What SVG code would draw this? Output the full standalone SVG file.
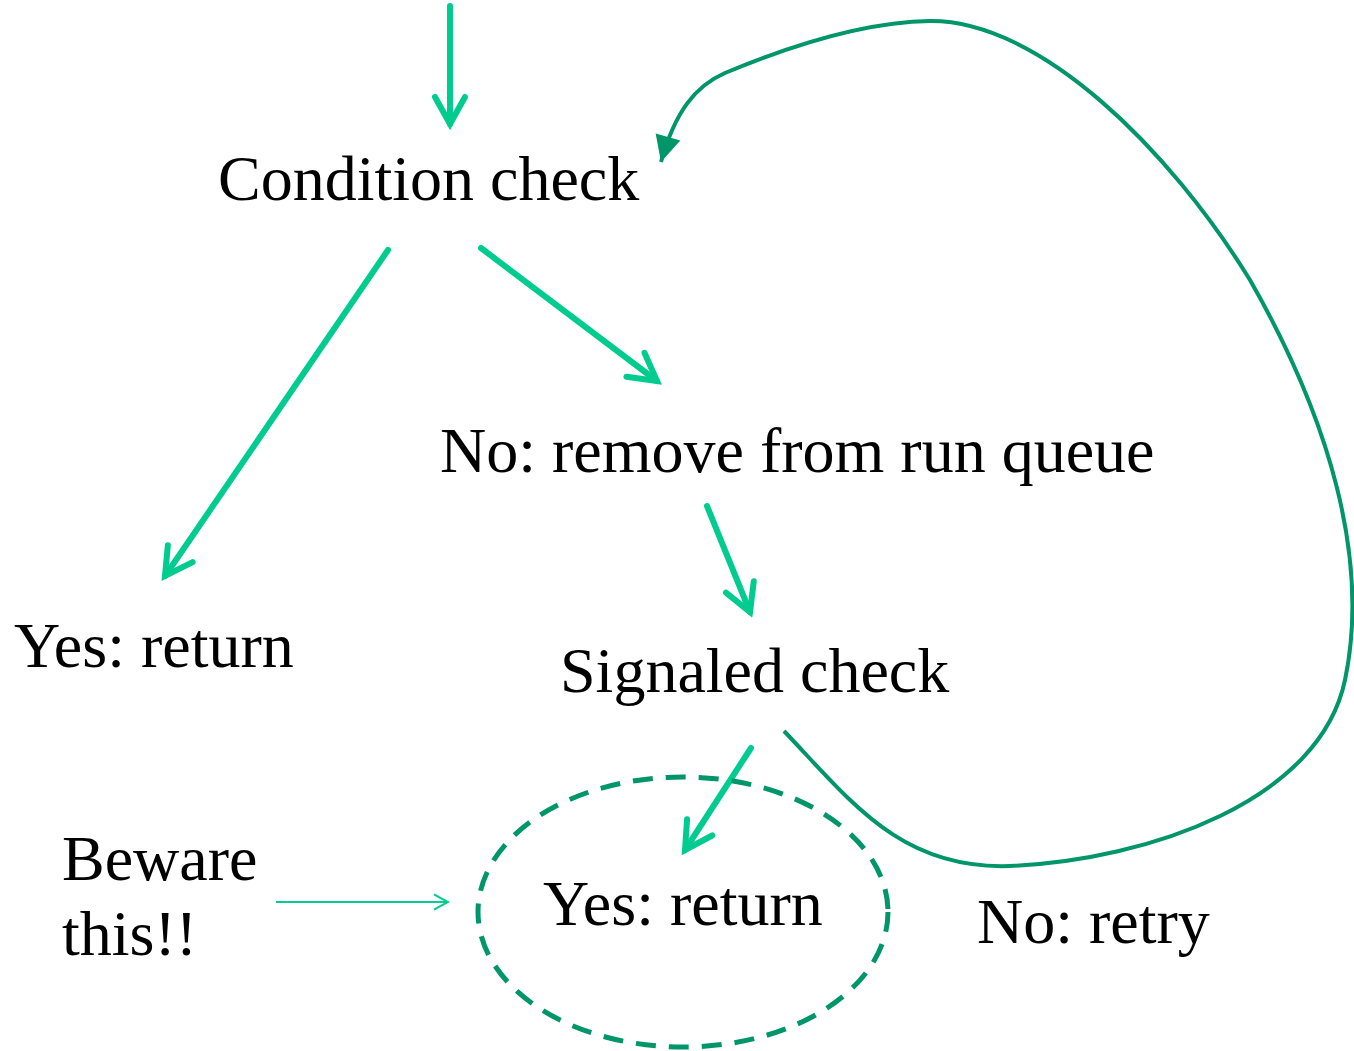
<svg xmlns="http://www.w3.org/2000/svg" width="1354" height="1051" viewBox="0 0 1354 1051">
<defs>
<style>
text{font-family:"Liberation Serif","Times New Roman",serif;font-size:64px;fill:#000}
.a{fill:none;stroke:#00CC8F;stroke-width:6;stroke-linecap:round}
.t{fill:none;stroke:#00CC8F;stroke-width:2}
.d{fill:none;stroke:#00966A;stroke-width:4}
</style>
<marker id="ch" viewBox="-7 -4 8 8" markerWidth="8" markerHeight="8" refX="0" refY="0" orient="auto" markerUnits="strokeWidth">
<path d="M-4.5,-2.5 L0,0 L-4.5,2.5" fill="none" stroke="#00CC8F" stroke-width="1" stroke-linecap="round" stroke-linejoin="miter"/>
</marker>
<marker id="ct" viewBox="-9 -5 10 10" markerWidth="10" markerHeight="10" refX="0" refY="0" orient="auto" markerUnits="strokeWidth">
<path d="M-7,-3.8 L0,0 L-7,3.8" fill="none" stroke="#00CC8F" stroke-width="1"/>
</marker>
<marker id="df" viewBox="-9 -4 10 8" markerWidth="10" markerHeight="8" refX="0" refY="0" orient="auto" markerUnits="strokeWidth">
<path d="M-6.5,-3.2 L0,0 L-6.5,3.2 Z" fill="#00966A"/>
</marker>
</defs>
<g id="connectors">
<line class="a" x1="450" y1="6" x2="450" y2="124" marker-end="url(#ch)"/>
<line class="a" x1="388" y1="250" x2="165" y2="576" marker-end="url(#ch)"/>
<line class="a" x1="481" y1="248" x2="657" y2="381" marker-end="url(#ch)"/>
<line class="a" x1="707" y1="506" x2="750" y2="612" marker-end="url(#ch)"/>
<line class="a" x1="751" y1="748" x2="685" y2="850" marker-end="url(#ch)"/>
<line class="t" x1="276" y1="902" x2="448" y2="902" marker-end="url(#ct)"/>
<path class="d" d="M784,731 C850,800 900,870 1010,866 C1150,860 1320,800 1345,680 C1370,560 1330,420 1250,280 C1170,150 1040,20 930,21 C860,22 780,50 725,73 C695,86 675,112 661,162" marker-end="url(#df)"/>
</g>
<g id="n-condition"><text x="218" y="200">Condition check</text></g>
<g id="n-remove"><text x="440" y="472">No: remove from run queue</text></g>
<g id="n-yes1"><text x="14" y="667">Yes: return</text></g>
<g id="n-signaled"><text x="560" y="692">Signaled check</text></g>
<g id="n-yes2">
<ellipse cx="683" cy="912" rx="205" ry="135" fill="none" stroke="#00966A" stroke-width="5" stroke-dasharray="20 13"/>
<text x="543" y="925">Yes: return</text>
</g>
<g id="n-retry"><text x="977" y="943">No: retry</text></g>
<g id="n-beware"><text x="62" y="880">Beware</text><text x="62" y="955">this!!</text></g>
</svg>
